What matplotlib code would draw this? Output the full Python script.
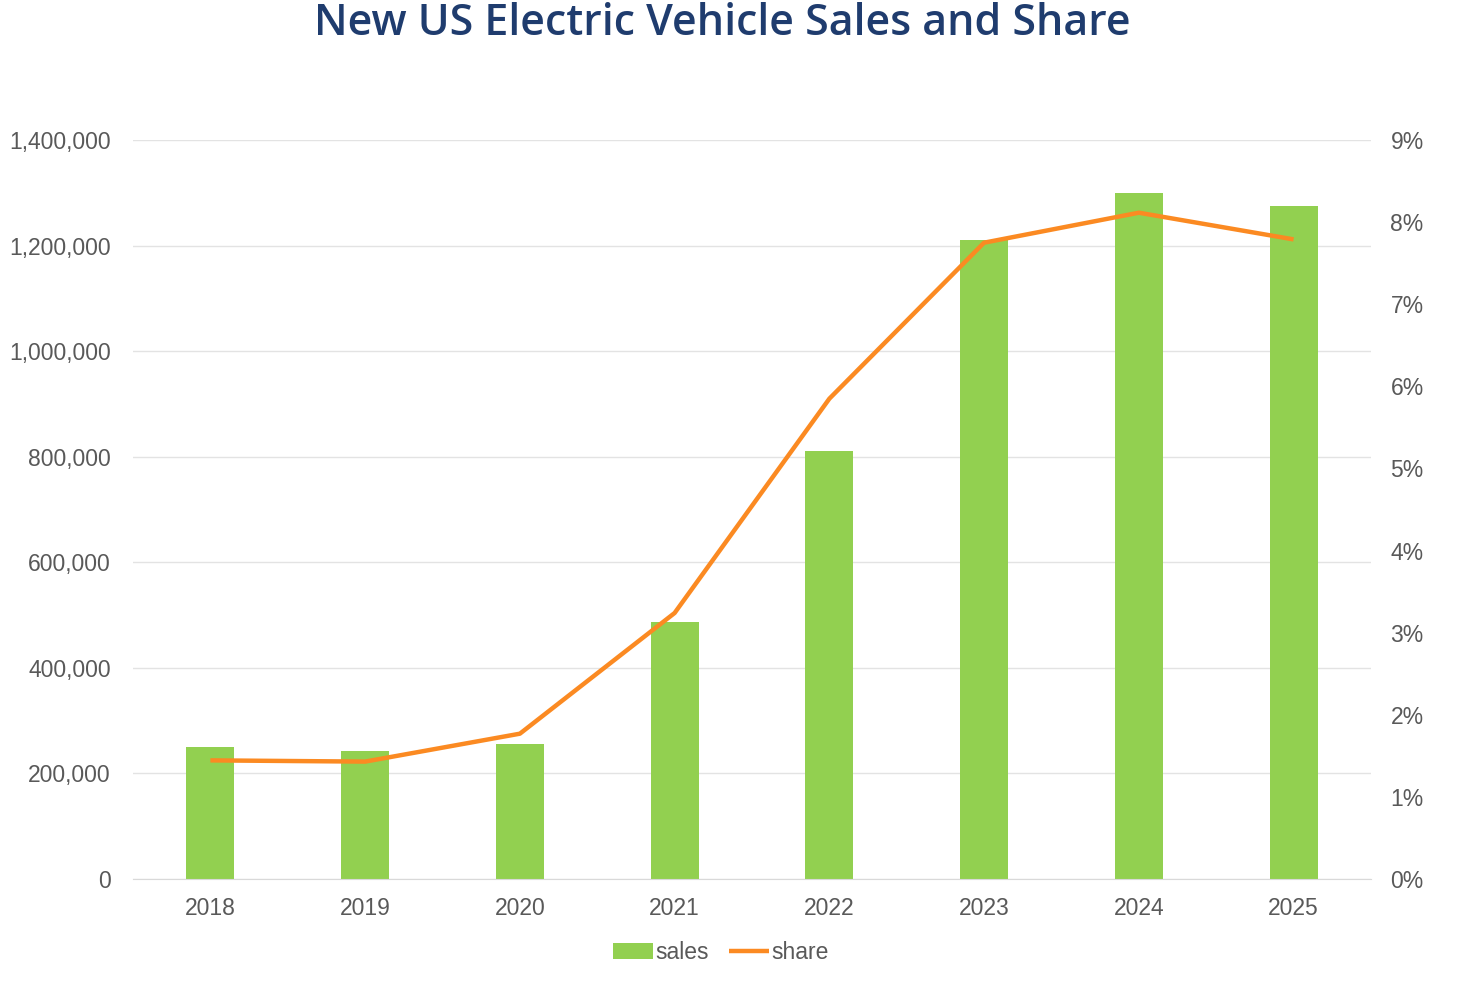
import numpy as np
import matplotlib.pyplot as plt
from matplotlib.ticker import FuncFormatter, MultipleLocator
from matplotlib.patches import Patch
from matplotlib.lines import Line2D

years = ['2018', '2019', '2020', '2021', '2022', '2023', '2024', '2025']
sales = [250000, 242500, 256000, 487000, 811000, 1211000, 1299000, 1275000]
share = [1.445, 1.43, 1.77, 3.24, 5.85, 7.75, 8.115, 7.79]

green = '#92d050'
orange = '#fb8a22'
grey = '#595959'

plt.rcParams['font.family'] = ['Liberation Sans', 'DejaVu Sans']

fig = plt.figure(figsize=(14.65, 9.89), dpi=100)
ax = fig.add_axes([0.0908, 0.1112, 0.845, 0.7472])
x = np.arange(len(years))

ax.bar(x, sales, width=0.31, color=green, zorder=2)
ax.set_xlim(-0.5, len(years) - 0.5)
ax.set_ylim(0, 1400000)
ax.yaxis.set_major_locator(MultipleLocator(200000))
ax.yaxis.set_major_formatter(FuncFormatter(lambda v, p: f'{int(v):,}'))
ax.set_xticks(x)
ax.set_xticklabels(years)
ax.grid(axis='y', color='#e3e3e3', linewidth=1, zorder=0)
for s in ['top', 'right', 'left']:
    ax.spines[s].set_visible(False)
ax.spines['bottom'].set_color('#d9d9d9')
ax.tick_params(axis='both', length=0, labelsize=16.5, colors=grey)
ax.tick_params(axis='y', pad=16)
ax.tick_params(axis='x', pad=13)

ax2 = ax.twinx()
ax2.plot(x, share, color=orange, linewidth=3.2, zorder=3, solid_capstyle='butt')
ax2.set_ylim(0, 9)
ax2.yaxis.set_major_locator(MultipleLocator(1))
ax2.yaxis.set_major_formatter(FuncFormatter(lambda v, p: f'{int(v)}%'))
for s in ['top', 'right', 'left', 'bottom']:
    ax2.spines[s].set_visible(False)
ax2.tick_params(axis='y', length=0, labelsize=16.5, colors=grey, pad=14)

fig.text(0.493, 0.9646, 'New US Electric Vehicle Sales and Share', ha='center', va='baseline',
         fontsize=31, fontweight='semibold', color='#1f3c6e', family='Open Sans')

handles = [Patch(facecolor=green, edgecolor='none'),
           Line2D([0], [0], color=orange, linewidth=3.2, solid_capstyle='butt')]
fig.legend(handles, ['sales', 'share'], loc='center', bbox_to_anchor=(0.492, 0.037),
           ncol=2, frameon=False, fontsize=16.5, labelcolor=grey,
           handlelength=1.75, handletextpad=0.1, columnspacing=0.9)

fig.savefig('out.png', dpi=100)
